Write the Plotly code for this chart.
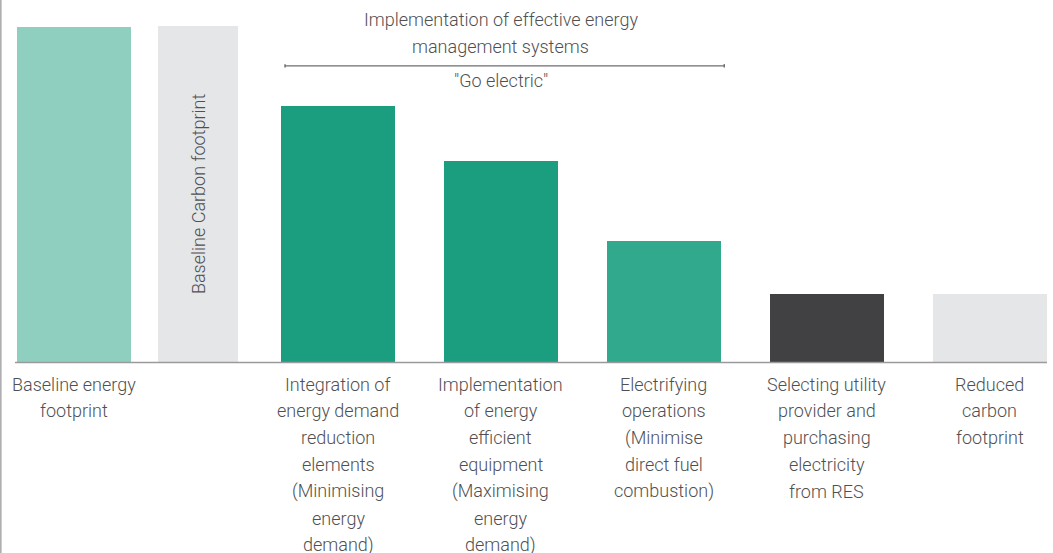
import plotly.graph_objects as go

# ---- data ----
categories = [
    "Baseline energy footprint",
    "Baseline Carbon footprint",
    "Integration of energy demand reduction elements (Minimising energy demand)",
    "Implementation of energy efficient equipment (Maximising energy demand)",
    "Electrifying operations (Minimise direct fuel combustion)",
    "Selecting utility provider and purchasing electricity from RES",
    "Reduced carbon footprint",
]
values = [100.0, 100.3, 76.5, 60.1, 36.3, 20.5, 20.5]
label_lines = [
    ["Baseline energy", "footprint"],
    [],
    ["Integration of", "energy demand", "reduction", "elements", "(Minimising", "energy", "demand)"],
    ["Implementation", "of energy", "efficient", "equipment", "(Maximising", "energy", "demand)"],
    ["Electrifying", "operations", "(Minimise", "direct fuel", "combustion)"],
    ["Selecting utility", "provider and", "purchasing", "electricity", "from RES"],
    ["Reduced", "carbon", "footprint"],
]
inner_label = "Baseline Carbon footprint"
top_lines = ["Implementation of effective energy", "management systems"]
bracket_label = '"Go electric"'

# ---- layout / style ----
x_pos = [0.38, 1.14, 2, 3, 4, 5, 6]
widths = [0.70, 0.49, 0.70, 0.70, 0.70, 0.70, 0.70]
colors = ["#8ecfc0", "#e5e6e8", "#1b9e80", "#1b9e80", "#30a98d", "#414042", "#e5e6e8"]
text_color = "#505052"
FONT = "Roboto"
FS = 18

fig = go.Figure()
fig.add_trace(go.Bar(
    x=x_pos, y=values, width=widths, marker=dict(color=colors, line=dict(width=0)),
    hovertext=categories, hoverinfo="text", showlegend=False,
))

annotations = []
for xp, lines in zip(x_pos, label_lines):
    for i, ln in enumerate(lines):
        annotations.append(dict(
            x=xp, y=0, xref="x", yref="y", text=ln, showarrow=False,
            xanchor="center", yanchor="middle", yshift=-(21.5 + 26.8 * i),
            font=dict(family=FONT, size=FS, color=text_color, weight=300),
        ))

annotations.append(dict(
    x=x_pos[1], y=values[1] / 2, xref="x", yref="y", text=inner_label, showarrow=False,
    textangle=-90, xanchor="center", yanchor="middle",
    font=dict(family=FONT, size=FS, color=text_color, weight=300),
))

for i, ln in enumerate(top_lines):
    annotations.append(dict(
        x=3.0, y=102.3 - 8.0 * i, xref="x", yref="y", text=ln, showarrow=False,
        xanchor="center", yanchor="middle",
        font=dict(family=FONT, size=FS, color=text_color, weight=300),
    ))
annotations.append(dict(
    x=3.0, y=83.9, xref="x", yref="y", text=bracket_label, showarrow=False,
    xanchor="center", yanchor="middle",
    font=dict(family=FONT, size=FS, color=text_color, weight=300),
))

shapes = [
    # baseline axis
    dict(type="line", xref="x", yref="y", x0=0.018, x1=6.35, y0=0, y1=0,
         line=dict(color="#9a9a9c", width=1.5)),
    # left border
    dict(type="line", xref="paper", yref="paper", x0=0.0008, x1=0.0008, y0=0, y1=1,
         line=dict(color="#a8a8aa", width=1.5)),
    # bracket
    dict(type="line", xref="x", yref="y", x0=1.675, x1=4.37, y0=88.4, y1=88.4,
         line=dict(color="#6d6e70", width=1.2)),
    dict(type="line", xref="x", yref="y", x0=1.675, x1=1.675, y0=87.9, y1=88.9,
         line=dict(color="#6d6e70", width=1.5)),
    dict(type="line", xref="x", yref="y", x0=4.37, x1=4.37, y0=87.9, y1=88.9,
         line=dict(color="#6d6e70", width=1.5)),
]

fig.update_layout(
    width=1053, height=553,
    margin=dict(l=0, r=0, t=0, b=0),
    paper_bgcolor="white", plot_bgcolor="white",
    xaxis=dict(range=[-0.074, 6.387], visible=False, fixedrange=True),
    yaxis=dict(range=[-56.7, 108.0], visible=False, fixedrange=True),
    annotations=annotations, shapes=shapes,
    bargap=0,
)

fig.write_html("out.html", config={"displayModeBar": False})
